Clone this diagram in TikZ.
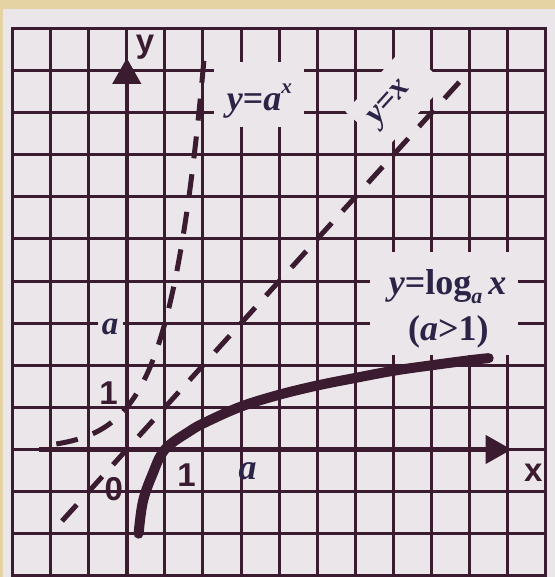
\documentclass[tikz,border=0pt]{standalone}
\usepackage{fontspec}
\setmainfont{Liberation Serif}
\newfontfamily\axisfont{Liberation Sans}
\usetikzlibrary{arrows.meta}
\definecolor{beige}{HTML}{E6D3A3}
\definecolor{paper}{HTML}{EAE6EA}
\definecolor{ink}{HTML}{3A1B30}
\definecolor{txt}{HTML}{2B2447}
\begin{document}
\begin{tikzpicture}[x=38.1pt, y=42.1pt,
  gridline/.style={ink, line width=3pt, line cap=rect},
  axisline/.style={ink, line width=4.5pt, -{Triangle[length=26pt,width=28pt]}},
  dashcurve/.style={ink, line width=5pt, dash pattern=on 22pt off 16pt},
  logcurve/.style={ink, line width=10pt, line cap=round},
  labelbg/.style={fill=paper, draw=none, inner sep=0pt},
  seriflbl/.style={txt, inner sep=0pt, font=\bfseries\fontsize{36}{40}\selectfont},
  sanslbl/.style={ink, inner sep=0pt, font=\axisfont\bfseries\fontsize{33}{38}\selectfont}
]
% page and paper
\fill[beige] (-3.328,-3.029) rectangle (11.239,10.677);
\useasboundingbox (-3.328,-3.029) rectangle (11.239,10.677);
\fill[paper] (-3.249,-3.029) rectangle (11.239,10.463);
% grid
\foreach \i in {-3,...,11} \draw[gridline] (\i,-3) -- (\i,10);
\foreach \j in {-3,...,10} \draw[gridline] (-3,\j) -- (11,\j);
% label backgrounds
\fill[paper] (2.29,7.66) rectangle (4.65,9.2);
\fill[paper] (6.38,2.24) rectangle (10.27,4.69);
\fill[paper] (-0.755,2.7) rectangle (-0.1,3.2);
\node[labelbg, rotate=47.9, minimum width=88pt, minimum height=55pt] (bgyx) at (7.05,8.36) {};
% axes
\coordinate (xs) at (-2.3,0);
\coordinate (xe) at (10.1,0);
\coordinate (ys) at (0,-3);
\coordinate (ye) at (0,9.3);
\draw[axisline] (xs) -- (xe);
\draw[axisline] (ys) -- (ye);
% curves
\draw[dashcurve] plot[domain=-1.85:2.06, samples=80] (\x,{pow(3,\x)});
\coordinate (ls) at (-1.7,-1.7);
\coordinate (le) at (8.8,8.8);
\draw[dashcurve] (ls) -- (le);
\draw[logcurve] plot[smooth, tension=0.6] coordinates {(0.31,-2.0) (0.42,-1.25) (0.66,-0.62) (1,0) (1.66,0.44) (2.1,0.66) (3,1.02) (4,1.3) (5,1.52) (6,1.7) (7,1.87) (8,2.0) (9,2.12) (9.5,2.17)};
% labels
\node[seriflbl, anchor=base] (lexp) at (3.48,8.06) {\textit{y}=\textit{a}\raisebox{0.45em}{\fontsize{21}{21}\selectfont\itshape x}};
\node[seriflbl, anchor=base] (llog) at (8.42,3.67) {\textit{y}=log\raisebox{-0.25em}{\fontsize{22}{22}\selectfont\itshape a}\,\textit{x}};
\node[seriflbl, anchor=base] (lcond) at (8.44,2.6) {(\textit{a}>1)};
\node[seriflbl, rotate=47.9, font=\bfseries\fontsize{33}{36}\selectfont] (lyx) at (6.935,8.21) {\textit{y}=\textit{x}};
\node[sanslbl, anchor=base] (laxy) at (0.48,9.44) {y};
\node[sanslbl, anchor=base] (laxx) at (10.67,-0.77) {x};
\node[sanslbl, anchor=base] (lzero) at (-0.34,-1.2) {0};
\node[sanslbl, anchor=base] (lyone) at (-0.48,1.08) {1};
\node[sanslbl, anchor=base] (lxone) at (1.57,-0.89) {1};
\node[seriflbl, anchor=base, font=\bfseries\fontsize{33}{36}\selectfont] (lya) at (-0.44,2.74) {\textit{a}};
\node[seriflbl, anchor=base] (lxa) at (3.17,-0.72) {\textit{a}};
\end{tikzpicture}
\end{document}
